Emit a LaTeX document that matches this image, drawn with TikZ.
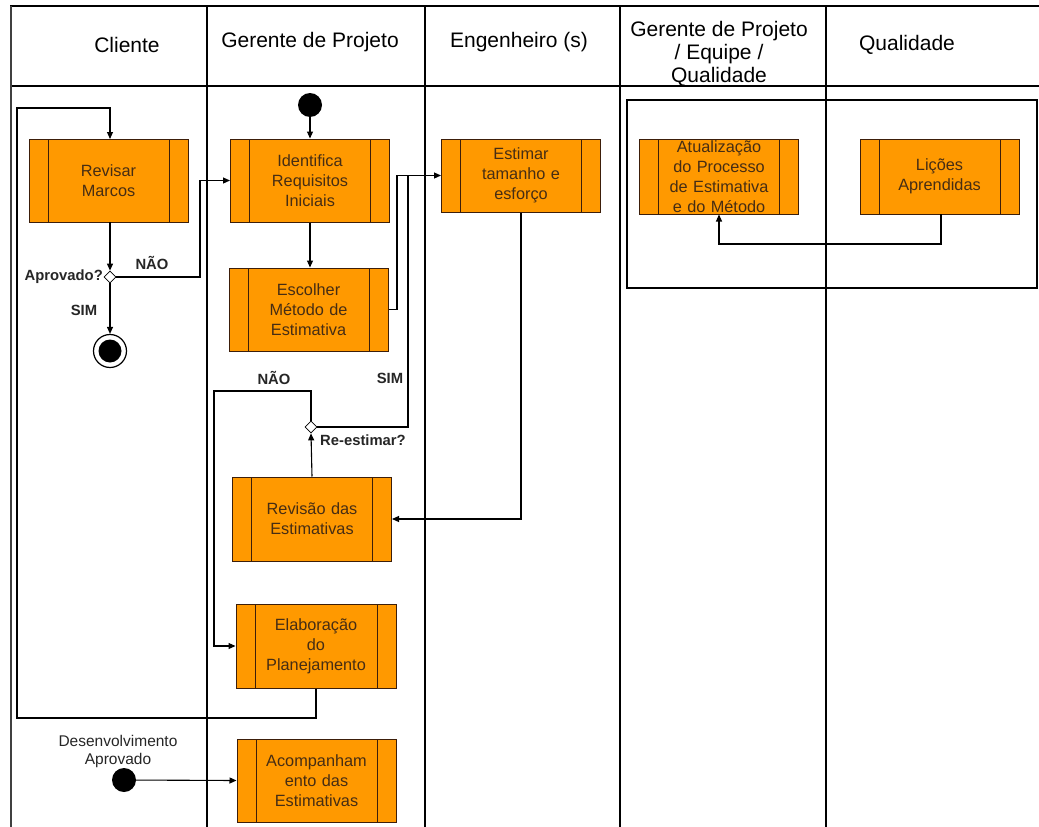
\documentclass[tikz,border=0pt]{standalone}
\usepackage{fontspec}
\setmainfont{Liberation Sans}
\usetikzlibrary{shapes.geometric,arrows.meta}
\definecolor{procfill}{RGB}{255,153,0}
\definecolor{proctext}{RGB}{70,45,20}
\definecolor{procline}{RGB}{60,30,10}
\tikzset{
  proc/.style={rectangle, draw=procline, line width=1pt, fill=procfill,
    minimum width=159pt, minimum height=83pt, inner sep=0pt,
    text width=130pt, align=center, text=proctext,
    font=\fontsize{16.3}{20}\selectfont,
    path picture={
      \draw[procline, line width=1pt]
        ([xshift=19pt]path picture bounding box.north west) -- ([xshift=19pt]path picture bounding box.south west)
        ([xshift=-19pt]path picture bounding box.north east) -- ([xshift=-19pt]path picture bounding box.south east);
    }},
  dec/.style={diamond, draw, fill=white, line width=0.8pt, minimum size=12pt, inner sep=0pt},
  dot/.style={circle, fill=black, minimum size=24pt, inner sep=0pt},
  flow/.style={line width=1.1pt, -{Triangle[length=7pt,width=6pt]}},
  plain/.style={line width=1.1pt},
  lane/.style={line width=1.2pt},
  hdr/.style={font=\fontsize{21}{23}\selectfont, align=center},
  lbl/.style={font=\bfseries\fontsize{14.8}{17}\selectfont, text=black!85, inner sep=0pt}
}
\begin{document}
\begin{tikzpicture}[x=1pt,y=-1pt]
\useasboundingbox (0,0) rectangle (1039,827);
\fill[white] (0,0) rectangle (1039,827);
% lanes
\draw[lane] (10,6) -- (1039,6);
\draw[lane] (10,86) -- (1039,86);
\draw[line width=2pt, black!75] (11,6) -- (11,827);
\draw[lane] (207,6) -- (207,827);
\draw[lane] (425,6) -- (425,827);
\draw[lane] (620,6) -- (620,827);
\draw[lane] (826,6) -- (826,827);
% headers
\node[hdr] (h1) at (127,45) {Cliente};
\node[hdr] (h2) at (310,42) {Gerente de Projeto};
\node[hdr] (h3) at (519,42) {Engenheiro (s)};
\node[hdr] (h4) at (719,54) {Gerente de Projeto\\/ Equipe /\\Qualidade};
\node[hdr] (h5) at (907,45) {Qualidade};
% group
\draw[line width=1.1pt] (627,100) rectangle (1037,288);
% processes
\node[proc] (rev) at (108.5,180.5) {Revisar\\Marcos};
\node[proc] (ide) at (310,180.5) {Identifica\\Requisitos\\Iniciais};
\node[proc] (esc) at (308.5,309.5) {Escolher\\Método de\\Estimativa};
\node[proc, minimum height=73pt] (est) at (521,175.5) {Estimar\\tamanho e\\esforço};
\node[proc, minimum height=75pt] (atu) at (719,176.5) {Atualização\\do Processo\\de Estimativa\\e do Método};
\node[proc, minimum height=75pt] (lic) at (939.5,176.5) {Lições\\Aprendidas};
\node[proc, minimum height=84pt] (rvs) at (312,519) {Revisão das\\Estimativas};
\node[proc, minimum width=160pt, minimum height=84pt] (ela) at (316,646) {Elaboração\\do\\Planejamento};
\node[proc] (aco) at (316.5,780.5) {Acompanham\\ento das\\Estimativas};
% start / end nodes
\node[dot] (start) at (310,105) {};
\node[circle, draw, line width=1.2pt, fill=white, minimum size=33pt, inner sep=0pt] (fin) at (110,351) {};
\node[dot, minimum size=23pt] (finin) at (110,351) {};
\node[dot] (dev) at (124,780) {};
% decisions
\node[dec] (d1) at (110,277) {};
\node[dec] (d2) at (311,427) {};
% labels
\node[lbl, anchor=east] (laprov) at (103,277) {Aprovado?};
\node[lbl] (lnao1) at (152,263) {NÃO};
\node[lbl] (lsim1) at (84,310) {SIM};
\node[lbl] (lnao2) at (274,378) {NÃO};
\node[lbl] (lsim2) at (390,378) {SIM};
\node[lbl, anchor=west] (lre) at (320,440) {Re-estimar?};
\node[font=\fontsize{15.5}{18}\selectfont, align=center, text=black!85] (ldev) at (118,751) {Desenvolvimento\\Aprovado};
% connectors
\draw[flow] (start) -- (ide.north);
\draw[flow] (ide.south) -- (ide.south |- esc.north);
\draw[flow] (esc.east) -- (397,309.5) -- (397,175.5) -- (est.west);
\draw[plain] (d2.east) -- (408,427) -- (408,175.5);
\draw[flow] (est.south) |- (rvs.east);
\draw[flow] (rvs.north) -- (d2.south);
\draw[flow] (d2.north) -- (311,391) -- (214,391) -- (214,646) -- (ela.west);
\draw[flow] (ela.south) -- (316,718) -- (17,718) -- (17,108) -- (110,108) -- (110,139);
\draw[flow] (110,222) -- (d1.north);
\draw[flow] (d1.south) -- (fin.north);
\draw[flow] (d1.east) -- (200,277) -- (200,180.5) -- (ide.west);
\draw[flow] (dev) -- (aco.west);
\draw[flow] (941,214) -- (941,244) -- (719,244) -- (atu.south);
\end{tikzpicture}
\end{document}
